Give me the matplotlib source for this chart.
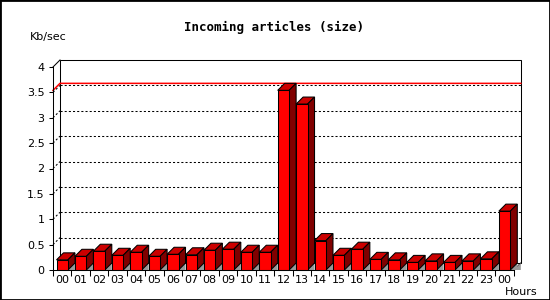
import matplotlib
matplotlib.use("Agg")
import matplotlib.pyplot as plt
from matplotlib.patches import Polygon, Rectangle

# --- data ---
hours = ["00", "01", "02", "03", "04", "05", "06", "07", "08", "09", "10", "11",
         "12", "13", "14", "15", "16", "17", "18", "19", "20", "21", "22", "23", "00"]
size_kb = [0.20, 0.27, 0.37, 0.29, 0.35, 0.27, 0.31, 0.30, 0.39, 0.41, 0.35, 0.35,
           3.54, 3.27, 0.58, 0.29, 0.41, 0.21, 0.20, 0.15, 0.18, 0.15, 0.18, 0.22, 1.16]
y_ticks = [0, 0.5, 1, 1.5, 2, 2.5, 3, 3.5, 4]
y_labels = ["0", "0.5", "1", "1.5", "2", "2.5", "3", "3.5", "4"]
peak_line = max(size_kb)

W, H = 550, 300
LW = 0.75  # one pixel
FS = 8
fig = plt.figure(figsize=(W / 100, H / 100), dpi=100)
fig.patch.set_facecolor("white")
fig.patches.append(Rectangle((0, 0), 1, 1, transform=fig.transFigure, fill=False,
                             edgecolor="black", linewidth=2))

ax_w, ax_h = 460.8, 203
ax = fig.add_axes([53 / W, 30 / H, ax_w / W, ax_h / H])
ax.set_xlim(-0.5, len(hours) - 0.5)
ax.set_ylim(0, 4)
ax.patch.set_alpha(0)

# depth of the fake 3d effect, 7 px converted to data units
ddx = 7 / (ax_w / len(hours))
ddy = 7 / (ax_h / 4)
x0, x1 = -0.5, len(hours) - 0.5

# back wall
ax.add_patch(Rectangle((x0 + ddx, ddy), x1 - x0, 4, facecolor="white",
                       edgecolor="black", linewidth=LW, clip_on=False, zorder=1))
for v in y_ticks[1:-1]:
    ax.plot([x0 + ddx, x1 + ddx], [v + ddy, v + ddy], color="black", lw=LW,
            linestyle=(0, (2, 2)), clip_on=False, zorder=2)
    ax.plot([x0, x0 + ddx], [v, v + ddy], color="black", lw=LW,
            linestyle=(0, (2, 2)), clip_on=False, zorder=2)
# side edges
ax.plot([x0, x0 + ddx], [4, 4 + ddy], color="black", lw=LW, clip_on=False, zorder=2)
ax.plot([x1, x1 + ddx], [0, ddy], color="black", lw=LW, clip_on=False, zorder=2)
ax.add_patch(Polygon([(x1, 0), (x1 + ddx, ddy), (x1 + ddx, 0)], closed=True,
                     facecolor="#999999", edgecolor="none", clip_on=False, zorder=2))

# peak line
ax.plot([x0, x0 + ddx, x1 + ddx], [peak_line, peak_line + ddy, peak_line + ddy],
        color="red", lw=1.1, clip_on=False, zorder=3)

# bars
bw = 0.62
for i, v in enumerate(size_kb):
    l, r = i - bw / 2, i + bw / 2
    z = 4 + i * 0.01
    ax.add_patch(Polygon([(r, 0), (r + ddx, ddy), (r + ddx, 0)], closed=True,
                         facecolor="#999999", edgecolor="none", clip_on=False, zorder=z))
    ax.add_patch(Polygon([(l, v), (l + ddx, v + ddy), (r + ddx, v + ddy), (r, v)],
                         closed=True, facecolor="#cc0000", edgecolor="black",
                         linewidth=LW, clip_on=False, zorder=z))
    ax.add_patch(Polygon([(r, 0), (r, v), (r + ddx, v + ddy), (r + ddx, ddy)],
                         closed=True, facecolor="#800000", edgecolor="black",
                         linewidth=LW, clip_on=False, zorder=z))
    ax.add_patch(Rectangle((l, 0), bw, v, facecolor="#ff0000", edgecolor="black",
                           linewidth=LW, clip_on=False, zorder=z + 0.005))

# axes and ticks
for s in ["top", "right"]:
    ax.spines[s].set_visible(False)
for s in ["left", "bottom"]:
    ax.spines[s].set_zorder(10)
    ax.spines[s].set_linewidth(LW)
ax.set_yticks(y_ticks)
ax.set_yticklabels(y_labels, fontsize=FS, family="DejaVu Sans")
ax.tick_params(axis="y", length=3, width=LW, pad=3)
ax.set_xticks(range(len(hours)))
ax.set_xticklabels(hours, fontsize=FS, family="DejaVu Sans")
ax.set_xticks([i - 0.5 for i in range(len(hours) + 1)], minor=True)
ax.tick_params(axis="x", which="major", length=0, pad=3.5)
ax.tick_params(axis="x", which="minor", length=4.5, width=LW)

fig.text(274 / W, 1 - 27 / H, "Incoming articles (size)", ha="center", va="center",
         fontsize=9, fontweight="bold", family="DejaVu Sans Mono")
fig.text(30 / W, 1 - 37 / H, "Kb/sec", ha="left", va="center", fontsize=FS,
         family="DejaVu Sans")
fig.text(505 / W, 1 - 292 / H, "Hours", ha="left", va="center", fontsize=FS,
         family="DejaVu Sans")

fig.savefig("out.png", dpi=100)
